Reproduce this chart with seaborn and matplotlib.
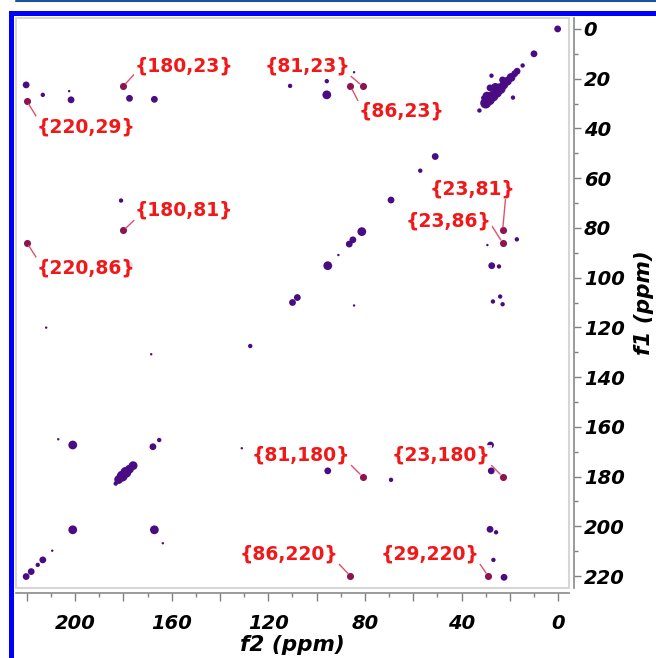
import numpy as np
import pandas as pd
import seaborn as sns
import matplotlib.pyplot as plt
from matplotlib.patches import Rectangle
from matplotlib.lines import Line2D
from matplotlib.ticker import MultipleLocator, FuncFormatter

# cross peaks (f2 ppm, f1 ppm, rough intensity level 1-5)
f2_ppm = [0.2, 10.0, 14.7, 17.0, 18.0, 19.5, 21.0, 22.5, 24.0, 25.5, 27.0, 28.5, 30.0,
          28.2, 31.0, 27.6, 18.7, 32.6, 29.5, 26.0, 23.0,
          220.3, 213.4, 201.7, 202.5, 177.5, 167.2, 181.0, 177.5,
          111.0, 95.8, 95.8, 84.5,
          81.3, 85.0, 86.5, 91.0, 95.4, 108.0, 110.0,
          50.9, 57.1, 69.2,
          17.1, 29.3, 27.5, 24.5, 27.0, 24.0, 23.0, 84.5,
          212.0, 168.5, 207.0, 201.0, 167.8, 165.2,
          183.2, 182.0, 180.5, 179.0, 177.5, 176.0,
          201.0, 167.2, 163.7, 209.5, 213.4, 215.5, 218.2, 220.3,
          127.5, 131.0, 95.4, 69.2,
          28.0, 27.7, 28.2, 25.7, 26.8, 22.4]
f1_ppm = [0.0, 10.0, 14.7, 17.0, 18.0, 19.5, 21.0, 22.5, 24.0, 25.5, 27.0, 28.5, 29.8,
          23.7, 27.7, 18.8, 27.6, 32.8, 27.0, 23.5, 20.5,
          22.5, 26.5, 28.5, 25.0, 27.9, 28.3, 69.0, 94.9,
          22.9, 26.5, 21.0, 17.4,
          81.5, 84.8, 86.5, 90.9, 95.2, 108.0, 110.0,
          51.3, 57.0, 68.8,
          84.6, 86.9, 95.2, 95.5, 109.6, 107.6, 110.7, 111.2,
          120.1, 130.8, 165.0, 167.3, 168.0, 165.3,
          182.8, 181.2, 179.8, 178.3, 177.0, 175.6,
          201.4, 201.4, 206.8, 209.8, 213.5, 215.5, 218.2, 220.2,
          127.5, 168.6, 177.7, 181.3,
          167.3, 177.7, 201.2, 202.4, 213.5, 220.5]
intensity = [3, 3, 2, 3, 3, 4, 4, 4, 5, 5, 5, 5, 5,
             3, 2, 2, 2, 2, 4, 4, 3,
             3, 2, 3, 1, 3, 3, 2, 3,
             2, 4, 2, 1,
             4, 3, 3, 1, 4, 3, 3,
             3, 2, 3,
             2, 1, 3, 2, 2, 2, 2, 1,
             1, 1, 1, 4, 3, 2,
             2, 4, 5, 5, 4, 4,
             4, 4, 1, 1, 3, 2, 3, 3,
             2, 1, 3, 2,
             3, 3, 3, 2, 2, 3]

# labelled correlations {f2,f1}
label_f2 = [180, 81, 86, 220, 23, 180, 23, 220, 81, 23, 86, 29]
label_f1 = [23, 23, 23, 29, 81, 81, 86, 86, 180, 180, 220, 220]

peaks = pd.DataFrame({"f2": f2_ppm, "f1": f1_ppm, "intensity": intensity})
labelled = pd.DataFrame({"f2": label_f2, "f1": label_f1})

sns.set_style("white")
plt.rcParams["font.family"] = ["DejaVu Sans"]
plt.rcParams["font.weight"] = "bold"
plt.rcParams["font.style"] = "italic"
plt.rcParams["axes.labelweight"] = "bold"

fig = plt.figure(figsize=(6.56, 6.58), dpi=100)
ax = fig.add_axes([16 / 656, 1 - 588 / 658, 553 / 656, 570 / 658])

sns.scatterplot(data=peaks, x="f2", y="f1", size="intensity",
                sizes={1: 3, 2: 10, 3: 24, 4: 40, 5: 62}, color="#4a0c82",
                linewidth=0, legend=False, ax=ax)
sns.scatterplot(data=labelled, x="f2", y="f1", s=26, color="#8c1450",
                linewidth=0, legend=False, ax=ax)

# label text placement (data coords) and where the leader leaves the text box
label_pos = [(154.9, 14.9), (103.9, 14.9), (65.0, 33.0), (195.4, 39.4),
             (35.6, 64.3), (154.9, 72.8), (45.5, 77.2), (195.4, 96.1),
             (106.4, 171.3), (48.4, 171.3), (111.4, 211.1), (53.0, 211.1)]
leader_from = [(0, 0.1), (1, 0), (0, 1), (0, 1), (0.89, 0), (0, 0),
               (1, 0.3), (0, 1), (1, 0), (1, 0), (1, 0), (1, 0)]

for x, y, (tx, ty), rel in zip(label_f2, label_f1, label_pos, leader_from):
    ax.annotate("{%d,%d}" % (x, y), xy=(x, y), xytext=(tx, ty),
                ha="center", va="center", fontsize=13.5, fontweight="bold",
                fontstyle="normal", color="#f01818",
                bbox=dict(boxstyle="square,pad=0.05", fc="white", ec="none", alpha=0.85),
                arrowprops=dict(arrowstyle="-", color="#e0506a", lw=1,
                                shrinkA=0, shrinkB=2.5, relpos=rel))

ax.set_xlim(224.5, -4.5)
ax.set_ylim(224.8, -4.4)

ax.xaxis.set_major_locator(MultipleLocator(20))
ax.xaxis.set_minor_locator(MultipleLocator(10))
ax.xaxis.set_major_formatter(FuncFormatter(lambda v, p: "%d" % v if round(v) % 40 == 0 else ""))
ax.yaxis.set_major_locator(MultipleLocator(20))
ax.yaxis.set_minor_locator(MultipleLocator(10))

ax.yaxis.tick_right()
ax.yaxis.set_label_position("right")
ax.tick_params(which="both", direction="out", colors="#808080", labelcolor="black",
               width=1, bottom=True, right=True, left=False, top=False)
ax.tick_params(axis="x", which="major", length=6, pad=9, labelsize=14)
ax.tick_params(axis="y", which="major", length=5, pad=2, labelsize=14)
ax.tick_params(which="minor", length=3)

for side in ["left", "top"]:
    ax.spines[side].set_visible(False)
for side in ["right", "bottom"]:
    ax.spines[side].set_position(("outward", 3.6))
    ax.spines[side].set_color("#8a8a8a")
    ax.spines[side].set_linewidth(1.2)

# light grey plot frame
ax.add_patch(Rectangle((0, 0), 1, 1, transform=ax.transAxes, fill=False,
                       ec="#d6d6d6", lw=1.5, clip_on=False))

ax.set_xlabel("f2 (ppm)", fontsize=15.5, color="black")
ax.set_ylabel("f1 (ppm)", fontsize=15.5, color="black")
ax.xaxis.set_label_coords(0.5, -0.083)
ax.yaxis.set_label_coords(1.117, 0.5)

# blue page frame and top rule
fig.add_artist(Rectangle((10.5 / 656, -0.5), 2, 0.5 + 1 - 13 / 658,
                         transform=fig.transFigure, fill=False, ec="#0000ff", lw=3.6))
fig.add_artist(Line2D([16 / 656, 1], [1 - 1 / 658, 1 - 1 / 658],
                      transform=fig.transFigure, color="#1a52a0", lw=1.5))

fig.savefig("out.png", dpi=100)
